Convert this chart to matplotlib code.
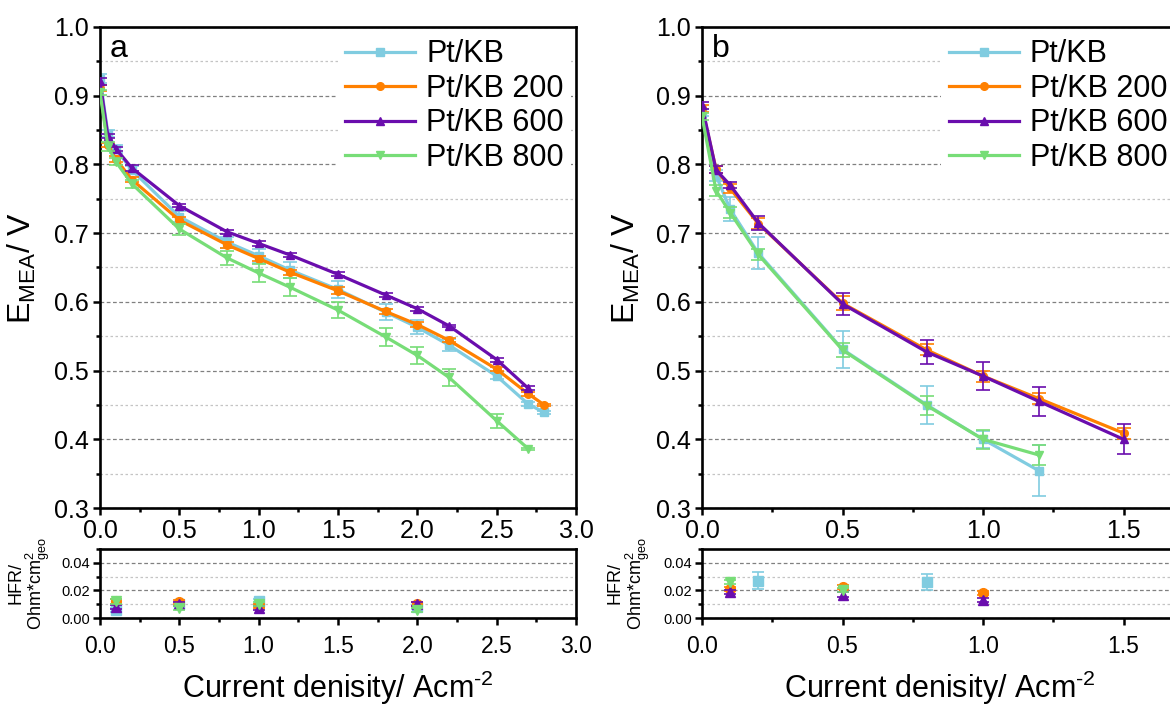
import numpy as np
import matplotlib
matplotlib.use("Agg")
import matplotlib.pyplot as plt
from matplotlib.ticker import MultipleLocator

plt.rcParams['font.family'] = ['Liberation Sans', 'DejaVu Sans']
plt.rcParams['mathtext.fontset'] = 'custom'
plt.rcParams['mathtext.rm'] = 'Liberation Sans'
plt.rcParams['mathtext.it'] = 'Liberation Sans:italic'
plt.rcParams['mathtext.bf'] = 'Liberation Sans:bold'

labels = ["Pt/KB", "Pt/KB 200", "Pt/KB 600", "Pt/KB 800"]
colors = ["#80CCE0", "#FF8000", "#6A0DAD", "#77DD77"]
markers = ["s", "o", "^", "v"]

# panel a: polarisation curves
xa = [0, 0.05, 0.1, 0.2, 0.5, 0.8, 1.0, 1.2, 1.5, 1.8, 2.0, 2.2, 2.5, 2.7, 2.8]
ya_kb = [0.925, 0.845, 0.822, 0.792, 0.724, 0.687, 0.667, 0.646, 0.618, 0.585, 0.563, 0.537, 0.492, 0.451, 0.439]
ea_kb = [0.006, 0.005, 0.006, 0.005, 0.008, 0.008, 0.010, 0.012, 0.012, 0.012, 0.010, 0.009, 0.004, 0.003, 0.002]
ya_200 = [0.911, 0.828, 0.808, 0.778, 0.719, 0.683, 0.663, 0.643, 0.616, 0.586, 0.567, 0.544, 0.502, 0.466, 0.450]
ea_200 = [0.004, 0.003, 0.004, 0.004, 0.005, 0.004, 0.004, 0.004, 0.005, 0.004, 0.004, 0.003, 0.003, 0.003, 0.002]
ya_600 = [0.921, 0.841, 0.823, 0.795, 0.740, 0.702, 0.685, 0.668, 0.640, 0.610, 0.590, 0.565, 0.516, 0.474]
ea_600 = [0.005, 0.003, 0.003, 0.004, 0.002, 0.003, 0.003, 0.003, 0.003, 0.003, 0.003, 0.002, 0.003, 0.003]
ya_800 = [0.905, 0.826, 0.804, 0.772, 0.706, 0.664, 0.642, 0.621, 0.588, 0.549, 0.522, 0.490, 0.427, 0.386]
ea_800 = [0.004, 0.006, 0.005, 0.006, 0.008, 0.010, 0.013, 0.013, 0.012, 0.013, 0.013, 0.012, 0.010, 0.002]

# panel b: polarisation curves
xb = [0, 0.05, 0.1, 0.2, 0.5, 0.8, 1.0, 1.2, 1.5]
yb_kb = [0.875, 0.784, 0.735, 0.671, 0.531, 0.450, 0.400, 0.354]
eb_kb = [0.005, 0.008, 0.017, 0.023, 0.027, 0.028, 0.012, 0.037]
yb_200 = [0.882, 0.793, 0.765, 0.714, 0.598, 0.530, 0.492, 0.459, 0.409]
eb_200 = [0.005, 0.005, 0.006, 0.008, 0.010, 0.008, 0.008, 0.008, 0.008]
yb_600 = [0.886, 0.792, 0.770, 0.715, 0.597, 0.527, 0.492, 0.455, 0.400]
eb_600 = [0.005, 0.005, 0.005, 0.010, 0.016, 0.018, 0.020, 0.021, 0.022]
yb_800 = [0.870, 0.762, 0.730, 0.669, 0.530, 0.449, 0.400, 0.377]
eb_800 = [0.005, 0.008, 0.008, 0.008, 0.010, 0.014, 0.014, 0.014]

# HFR values
hx_a = [0.1, 0.5, 1.0, 2.0]
hfr_a = [
    [0.006, 0.010, 0.012, 0.008],
    [0.012, 0.0115, 0.009, 0.010],
    [0.008, 0.010, 0.0075, 0.010],
    [0.012, 0.007, 0.010, 0.006],
]
hfr_a_err = [0.0015, 0.0015, 0.0015, 0.0015]

hx_b = [[0.2, 0.8], [0.1, 0.5, 1.0], [0.1, 0.5, 1.0], [0.1, 0.5]]
hfr_b = [[0.027, 0.026], [0.021, 0.0225, 0.018], [0.019, 0.017, 0.013], [0.026, 0.020]]
hfr_b_err = [0.006, 0.0015, 0.0015, 0.0015]

FW, FH = 1170, 705


def rect(x0, x1, ytop, ybot):
    return [x0 / FW, 1 - ybot / FH, (x1 - x0) / FW, (ybot - ytop) / FH]


def style(ax, fs):
    for s in ax.spines.values():
        s.set_linewidth(1.9)
    ax.tick_params(which='both', direction='out', width=1.8, top=False, right=False, labelsize=fs)
    ax.tick_params(which='major', length=5, pad=3)
    ax.tick_params(which='minor', length=3)
    ax.grid(True, axis='y', which='major', color='#808080', linestyle=(0, (3, 2)), linewidth=0.9)
    ax.grid(True, axis='y', which='minor', color='#c4c4c4', linestyle=(0, (2, 2)), linewidth=0.9)
    ax.set_axisbelow(True)


fig = plt.figure(figsize=(11.7, 7.05), dpi=100)

panels = [
    dict(x0=100, xmax=3.0, tag="a", x=xa, ylab=-0.13, hlab=-0.10,
         ys=[ya_kb, ya_200, ya_600, ya_800], es=[ea_kb, ea_200, ea_600, ea_800]),
    dict(x0=702, xmax=1.7, tag="b", x=xb, ylab=-0.125, hlab=-0.105,
         ys=[yb_kb, yb_200, yb_600, yb_800], es=[eb_kb, eb_200, eb_600, eb_800]),
]

for i, p in enumerate(panels):
    width = 476 if i == 0 else 1.7 * 281
    x1 = p["x0"] + width
    ax = fig.add_axes(rect(p["x0"], x1, 27, 508))
    style(ax, 18)
    for k in range(4):
        xs = p["x"][:len(p["ys"][k])]
        ax.errorbar(xs, p["ys"][k], yerr=p["es"][k], fmt='none', ecolor=colors[k],
                    elinewidth=1.2, capsize=5, capthick=1.2, zorder=2 + k)
        ax.plot(xs, p["ys"][k], color=colors[k], marker=markers[k], markersize=5.5,
                linewidth=2.3, label=labels[k], zorder=2 + k)
    ax.set_xlim(0, p["xmax"])
    ax.set_ylim(0.3, 1.0)
    ax.xaxis.set_major_locator(MultipleLocator(0.5))
    ax.xaxis.set_minor_locator(MultipleLocator(0.25))
    ax.yaxis.set_major_locator(MultipleLocator(0.1))
    ax.yaxis.set_minor_locator(MultipleLocator(0.05))
    ax.xaxis.set_major_formatter(plt.FormatStrFormatter('%.1f'))
    ax.yaxis.set_major_formatter(plt.FormatStrFormatter('%.1f'))
    ax.set_ylabel(r'E$_{\mathrm{MEA}}$/ V', fontsize=23)
    ax.yaxis.set_label_coords(p["ylab"], 0.5)
    ax.text(0.02, 0.985, p["tag"], transform=ax.transAxes, fontsize=23, va='top', ha='left')
    leg = ax.legend(loc='upper right', bbox_to_anchor=(1.0, 1.0), fontsize=22, numpoints=1,
                    handlelength=2.3, handletextpad=0.35, labelspacing=0.15,
                    borderaxespad=0.15, borderpad=0.25, frameon=True, fancybox=False)
    leg.get_frame().set_facecolor('white')
    leg.get_frame().set_edgecolor('none')
    leg.get_frame().set_alpha(1)

    # HFR panel
    hx = fig.add_axes(rect(p["x0"], x1, 549, 618))
    style(hx, 16.5)
    hx.tick_params(axis='y', labelsize=10.5, pad=2)
    for k in range(4):
        if i == 0:
            xs, ys, es = hx_a, hfr_a[k], hfr_a_err[k]
        else:
            xs, ys, es = hx_b[k], hfr_b[k], hfr_b_err[k]
        hx.errorbar(xs, ys, yerr=es, fmt=markers[k], color=colors[k], markersize=7,
                    elinewidth=1.2, capsize=4, capthick=1.2, zorder=3 + k)
    hx.set_xlim(0, p["xmax"])
    hx.set_ylim(0, 0.05)
    hx.xaxis.set_major_locator(MultipleLocator(0.5))
    hx.xaxis.set_minor_locator(MultipleLocator(0.25))
    hx.yaxis.set_major_locator(MultipleLocator(0.02))
    hx.yaxis.set_minor_locator(MultipleLocator(0.01))
    hx.xaxis.set_major_formatter(plt.FormatStrFormatter('%.1f'))
    hx.yaxis.set_major_formatter(plt.FormatStrFormatter('%.2f'))
    hx.tick_params(axis='x', pad=7)
    hx.set_ylabel("HFR/\nOhm*cm$^{2}_{\\mathrm{geo}}$", fontsize=13, linespacing=1.0)
    hx.yaxis.set_label_coords(p["hlab"], 0.5)

    cx = (p["x0"] + (p["x0"] + 476)) / 2 / FW
    fig.text(cx, 1 - 698 / FH, r'Current denisity/ Acm$^{\text{-2}}$', fontsize=22,
             ha='center', va='baseline')

fig.savefig("out.png", dpi=100)
